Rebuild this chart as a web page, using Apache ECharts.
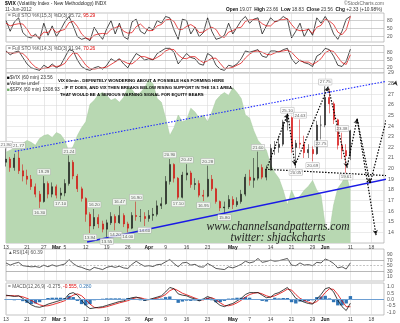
<!DOCTYPE html>
<html>
<head>
<meta charset="utf-8">
<title>$VIX 60 min</title>
<script src="https://cdn.jsdelivr.net/npm/echarts@6.0.0/dist/echarts.min.js"></script>
<style>
html,body{margin:0;padding:0;background:#fff;}
#chart{width:400px;height:323px;}
</style>
</head>
<body>
<div id="chart"></div>
<script>
// Trading days on the date axis (2012); the last eight are empty projection room.
const dates = ['02-13','02-14','02-15','02-16','02-17','02-21','02-22','02-23','02-24','02-27','02-28','02-29',
  '03-01','03-02','03-05','03-06','03-07','03-08','03-09','03-12','03-13','03-14','03-15','03-16','03-19','03-20',
  '03-21','03-22','03-23','03-26','03-27','03-28','03-29','03-30','04-02','04-03','04-04','04-05','04-09','04-10',
  '04-11','04-12','04-13','04-16','04-17','04-18','04-19','04-20','04-23','04-24','04-25','04-26','04-27','04-30',
  '05-01','05-02','05-03','05-04','05-07','05-08','05-09','05-10','05-11','05-14','05-15','05-16','05-17','05-18',
  '05-21','05-22','05-23','05-24','05-25','05-29','05-30','05-31','06-01','06-04','06-05','06-06','06-07','06-08',
  '06-11','06-12','06-13','06-14','06-15','06-18','06-19','06-20','06-21'];
const tickDates  = ['02-13','02-21','02-27','03-01','03-05','03-12','03-19','03-26','04-02','04-09','04-16','04-23','05-01','05-07','05-14','05-21','05-29','06-01','06-11','06-18'];
const tickLabels = ['13','21','27','Mar','5','12','19','26','Apr','9','16','23','May','7','14','21','29','Jun','11','18'];

// $VIX price bars
const vixOpen = [20.6,20.9,20.1,21.0,19.8,19.3,19.0,18.3,17.6,16.9, 18.6,17.6,18.3,17.5,17.7,18.6,20.6,19.3,18.1,17.2,
  15.7,14.6,15.4,14.8,14.3,14.9,15.5,14.9,15.6,14.8, 14.4,15.6,15.5,15.5,15.3,15.6,15.7,16.5,16.7,18.8,
  20.4,19.1,17.3,19.4,19.6,18.5,18.6,17.5,17.4,19.0, 18.1,16.9,16.3,16.4,17.1,16.6,16.9,17.6,19.2,18.9,
  19.1,20.1,19.2,19.9,21.9,22.0,22.3,24.4,24.8,22.0, 22.4,22.3,21.5,21.8,21.4,24.1,24.1,26.7,26.1,24.6, 22.2,21.7,21.2];
const vixClose = [20.9,20.1,21.0,19.8,19.3,19.0,18.3,17.6,16.9,18.6, 17.6,18.3,17.5,17.7,18.6,20.6,19.3,18.1,17.2,15.7,
  14.6,15.4,14.8,14.3,14.9,15.5,14.9,15.6,14.8,14.4, 15.6,15.5,15.5,15.3,15.6,15.7,16.5,16.7,18.8,20.4,
  19.1,17.3,19.4,19.6,18.5,18.6,17.5,17.4,19.0,18.1, 16.9,16.3,16.4,17.1,16.6,16.9,17.6,19.2,18.9,19.1,
  20.1,19.2,19.9,21.9,22.0,22.3,24.4,24.8,22.0,22.4, 22.3,21.5,21.8,21.4,24.1,24.1,26.7,26.1,24.6,22.2, 21.7,21.2,23.56];
const vixLow = [20.2,19.7,19.8,19.5,18.8,18.5,18.0,17.3,16.30,16.8, 17.2,17.3,17.2,17.10,17.4,18.4,19.0,17.8,16.9,15.0,
  13.94,14.3,14.4,14.0,13.55,14.7,14.2,14.8,14.5,14.0, 14.3,15.1,15.0,14.6,15.0,15.1,15.5,16.2,16.6,18.5,
  18.7,17.10,17.2,18.9,18.2,18.0,17.3,16.95,17.3,17.9, 16.7,16.0,15.80,16.2,16.2,16.4,16.7,17.4,18.4,18.20,
  18.9,19.0,18.9,19.8,21.3,21.5,22.1,23.6,21.5,20.05, 21.9,21.0,21.0,20.69,21.3,22.75,23.9,25.2,24.2,21.8, 20.9,19.61,20.8];
const vixHigh = [21.90,21.1,21.4,21.77,20.4,19.9,19.4,18.6,17.9,19.29, 18.8,18.7,18.5,18.2,19.0,21.24,20.8,19.5,18.3,17.3,
  15.9,16.20,15.7,15.1,15.2,15.9,15.7,16.47,15.8,15.0, 15.9,16.90,16.2,15.9,16.1,16.3,17.0,17.3,19.3,20.90,
  20.5,19.2,19.7,20.42,19.8,19.1,18.9,18.0,20.28,19.4, 18.2,17.0,16.9,17.5,17.4,17.3,18.0,19.5,19.9,21.0,
  21.60,20.4,20.3,22.3,22.6,23.1,24.6,25.10,24.9,22.7, 24.63,23.1,22.3,22.1,24.5,25.0,27.75,27.5,26.3,24.7, 23.38,22.3,23.66];
// bars whose high / low carry a value tag
const taggedHighs = [0,3,9,15,21,27,31,39,43,48,60,67,70,76,80];
const taggedLows  = [8,13,20,24,26,29,33,41,47,52,69,73,75,81];

// $SPX overlay (filled area)
const spx = [1348,1350,1352,1354,1357,1360,1358,1355,1362,1365, 1366,1363,1368,1366,1360,1348,1354,1365,1373,1379,
  1397,1401,1407,1409,1406,1401,1403,1399,1404,1414, 1412,1406,1409,1414,1422,1418,1403,1399,1383,1365,
  1373,1386,1379,1381,1393,1389,1383,1386,1379,1389, 1401,1406,1409,1406,1414,1409,1403,1386,1383,1370,
  1360,1355,1350,1335,1327,1321,1309,1294,1309,1299, 1303,1309,1313,1319,1309,1304,1273,1266,1294,1311, 1317,1325,1308.93];

// Full stochastics
const sto15K = [80,40,75,90,35,20,15,30,10,70, 25,60,20,45,75,95,60,20,10,15, 5,55,30,10,50,80,30,70,20,10,
  75,85,40,30,55,45,80,70,95,90, 45,10,85,80,30,55,20,35,90,40, 10,15,25,70,30,55,80,95,70,85,
  90,30,60,90,75,80,95,85,15,40, 70,20,50,25,90,70,95,70,30,10, 40,85,95.72];
const sto15D = [70,60,65,68,67,48,23,22,18,37, 35,52,35,42,47,72,77,58,30,15, 10,25,30,32,30,47,53,60,40,33,
  35,57,67,52,42,43,60,65,82,85, 77,48,47,58,65,55,35,37,48,55, 47,22,17,37,42,52,55,77,82,83,
  82,68,60,60,75,82,83,87,65,47, 42,43,47,32,55,62,85,78,65,37, 27,45,95.29];
const sto14K = [85,70,80,85,60,35,20,15,10,30, 20,35,20,30,60,90,85,50,25,15, 10,20,25,15,30,55,45,55,35,20,
  50,75,65,50,55,50,75,85,95,95, 80,35,55,75,60,55,35,30,75,65, 30,15,10,30,25,35,55,85,80,85,
  90,65,60,85,85,80,90,95,55,35, 50,40,35,25,65,75,95,90,65,30, 25,45,91.94];
const sto14D = [80,78,77,80,75,60,38,23,15,18, 20,28,25,28,37,60,78,75,53,30, 17,15,18,20,23,33,43,52,45,37,
  35,48,63,63,57,52,60,70,85,92, 90,70,57,55,63,63,50,40,47,57, 57,37,18,18,22,30,38,58,73,83,
  85,80,72,70,77,83,85,88,80,62, 47,42,42,33,42,55,78,87,83,62, 40,33,70.26];

// RSI(14)
const rsi14 = [60,52,58,62,50,48,46,47,44,52, 46,53,48,52,56,72,58,48,44,38, 34,44,40,36,44,48,44,48,42,40,
  55,66,56,48,50,47,54,55,64,72, 58,46,60,62,52,55,46,45,58,50, 40,38,36,46,42,48,55,66,60,64,
  76,62,65,70,66,68,72,76,52,50, 60,52,54,50,62,60,74,68,58,42, 46,38,60.39];

// MACD(12,26,9)
const macdLine = [0.35,0.30,0.25,0.30,0.10,-0.15,-0.40,-0.55,-0.60,-0.50, -0.35,-0.25,-0.15,-0.05,0.05,0.45,0.55,0.35,-0.05,-0.45,
  -0.70,-0.65,-0.60,-0.55,-0.45,-0.35,-0.25,-0.15,-0.10,0.05, 0.15,0.20,0.10,-0.05,0.00,0.10,0.20,0.30,0.60,0.95,
  0.85,0.45,0.35,0.30,0.15,0.05,-0.10,0.05,0.25,0.10, -0.20,-0.45,-0.55,-0.40,-0.30,-0.10,0.10,0.40,0.55,0.55,
  0.55,0.35,0.15,0.20,0.45,0.55,0.75,0.95,0.55,0.10, -0.05,-0.20,-0.30,-0.35,0.05,0.40,0.85,0.95,0.60,-0.05, -0.55,-0.85,-0.275];
const macdSignal = [0.30,0.32,0.30,0.28,0.22,0.10,-0.05,-0.25,-0.40,-0.50, -0.48,-0.40,-0.30,-0.20,-0.08,0.15,0.35,0.45,0.30,0.00,
  -0.35,-0.60,-0.65,-0.62,-0.55,-0.45,-0.35,-0.25,-0.17,-0.08, 0.05,0.15,0.15,0.05,0.00,0.05,0.12,0.22,0.40,0.70,
  0.85,0.70,0.50,0.38,0.25,0.12,0.00,-0.02,0.10,0.15, 0.00,-0.25,-0.45,-0.48,-0.40,-0.25,-0.05,0.20,0.40,0.50,
  0.55,0.45,0.30,0.20,0.30,0.45,0.62,0.82,0.75,0.40, 0.10,-0.05,-0.20,-0.30,-0.15,0.15,0.55,0.85,0.80,0.40, -0.10,-0.55,-0.555];
const macdHist = [0.05,-0.02,-0.05,0.02,-0.12,-0.25,-0.35,-0.30,-0.20,0.00, 0.13,0.15,0.15,0.15,0.13,0.30,0.20,-0.10,-0.35,-0.45,
  -0.35,-0.05,0.05,0.07,0.10,0.10,0.10,0.10,0.07,0.13, 0.10,0.05,-0.05,-0.10,0.00,0.05,0.08,0.08,0.20,0.25,
  0.00,-0.25,-0.15,-0.08,-0.10,-0.07,-0.10,0.07,0.15,-0.05, -0.20,-0.20,-0.10,0.08,0.10,0.15,0.15,0.20,0.15,0.05,
  0.00,-0.10,-0.15,0.00,0.15,0.10,0.13,0.13,-0.20,-0.30, -0.15,-0.15,-0.10,-0.05,0.20,0.25,0.30,0.10,-0.20,-0.45, -0.45,-0.30,0.28];

// Hand-drawn trend lines, as [trading-day index, price]
const upperChannel = [[2.1,21.62],[93.8,28.46]];
const lowerChannel = [[19.3,13.09],[93.8,19.28]];
const neckline     = [[61.7,19.94],[93.8,19.28]];
const pathMain     = [[62.1,20.03],[67.1,25.18],[68.8,20.3],[76.7,27.7],[81.2,20.1],[83.6,24.7],[86.7,18.6],[92.9,28.3]];
const pathAlt      = [[83.6,24.7],[88.1,13.75]];

const FF = '"Liberation Sans", Arial, sans-serif';
const tickSet = new Set(tickDates);
const tickText = {};
tickDates.forEach((d, i) => { tickText[d] = tickLabels[i]; });
const months = ['Mar','Apr','May','Jun'];

const chart = echarts.init(document.getElementById('chart'), null, {renderer: 'canvas'});

const gridBox = (top, height) => ({left: 6, right: 16, top, height, show: true,
  borderColor: '#9c9c9c', borderWidth: 0.6, backgroundColor: '#fff'});

const catAxis = (gi, showLabels) => ({
  type: 'category', gridIndex: gi, data: dates, boundaryGap: false,
  axisLine: {show: false}, axisTick: {show: false},
  axisLabel: {
    show: showLabels, interval: (i, v) => tickSet.has(v), margin: 2.5,
    fontSize: 5, fontFamily: FF, color: '#444',
    formatter: v => { const t = tickText[v] || ''; return months.includes(t) ? '{m|' + t + '}' : t; },
    rich: {m: {fontSize: 5, fontFamily: FF, fontWeight: 'bold', color: '#111'}}
  },
  splitLine: {show: true, interval: (i, v) => tickSet.has(v), lineStyle: {color: '#dadada', width: 0.6}}
});

const sideLabels = (keep, fmt) => ({
  show: true, fontSize: 5, fontFamily: FF, color: '#555', margin: 3,
  formatter: v => keep(v) ? (fmt ? fmt(v) : String(v)) : ''
});

const hLines = (vals, color, type) => ({
  silent: true, symbol: 'none', label: {show: false},
  lineStyle: {color, width: 0.6, type}, data: vals.map(v => ({yAxis: v}))
});

const stoKeep = v => v === 20 || v === 50 || v === 80;

const option = {
  animation: false,
  backgroundColor: '#fff',
  grid: [gridBox(13, 29), gridBox(45.5, 27.5), gridBox(73, 170), gridBox(249, 32), gridBox(283, 32)],
  xAxis: [
    catAxis(0, false), catAxis(1, false), catAxis(2, true), catAxis(3, false), catAxis(4, true),
    {type: 'value', gridIndex: 2, min: 0, max: dates.length - 1, show: false}
  ],
  yAxis: [
    {type: 'value', gridIndex: 0, position: 'right', min: 0, max: 108, interval: 10,
      axisLabel: sideLabels(stoKeep), splitLine: {show: false}, axisLine: {show: false}, axisTick: {show: false}},
    {type: 'value', gridIndex: 1, position: 'right', min: 0, max: 106, interval: 10,
      axisLabel: sideLabels(stoKeep), splitLine: {show: false}, axisLine: {show: false}, axisTick: {show: false}},
    {type: 'value', gridIndex: 2, position: 'right', min: 13, max: 29, interval: 1,
      axisLabel: Object.assign(sideLabels(v => v > 13), {fontSize: 5.2, margin: 4}),
      splitLine: {show: true, lineStyle: {color: '#dedede', width: 0.6}}, axisLine: {show: false}, axisTick: {show: false}},
    {type: 'value', gridIndex: 2, min: 1255, max: 1429, show: false, splitLine: {show: false}},
    {type: 'value', gridIndex: 3, position: 'right', min: -5, max: 110, interval: 5,
      axisLabel: sideLabels(v => [10, 30, 50, 70, 90].includes(v)), splitLine: {show: false}, axisLine: {show: false}, axisTick: {show: false}},
    {type: 'value', gridIndex: 4, position: 'right', min: -1.2, max: 1.3, interval: 0.1,
      axisLabel: sideLabels(v => { const t = Math.round(v * 10); return t % 5 === 0 && Math.abs(t) <= 10; },
        v => (Math.round(v * 10) / 10).toFixed(1)),
      splitLine: {show: false}, axisLine: {show: false}, axisTick: {show: false}}
  ],
  series: [
    // Full STO %K(15,3) %D(3)
    {type: 'line', xAxisIndex: 0, yAxisIndex: 0, data: sto15K, symbol: 'none', lineStyle: {color: '#000', width: 0.7},
      markLine: hLines([80, 50, 20], '#b0b0b0', 'solid'), z: 3},
    {type: 'line', xAxisIndex: 0, yAxisIndex: 0, data: sto15D, symbol: 'none', lineStyle: {color: '#e00000', width: 0.7}, z: 4},
    // Full STO %K(14,3) %D(3)
    {type: 'line', xAxisIndex: 1, yAxisIndex: 1, data: sto14K, symbol: 'none', lineStyle: {color: '#000', width: 0.7},
      markLine: hLines([80, 50, 20], '#b0b0b0', 'solid'), z: 3},
    {type: 'line', xAxisIndex: 1, yAxisIndex: 1, data: sto14D, symbol: 'none', lineStyle: {color: '#e00000', width: 0.7}, z: 4},
    // $SPX area behind the price bars
    {type: 'line', xAxisIndex: 2, yAxisIndex: 3, data: spx, symbol: 'none', z: 1,
      lineStyle: {color: '#a6cb9f', width: 0.5}, areaStyle: {color: '#b8d8b2', opacity: 1, origin: 'start'}},
    // $VIX bars
    {type: 'candlestick', xAxisIndex: 2, yAxisIndex: 2, barWidth: 1.6, z: 3,
      data: vixOpen.map((o, i) => [o, vixClose[i], vixLow[i], vixHigh[i]]),
      itemStyle: {color: '#111', color0: '#d40000', borderColor: '#111', borderColor0: '#d40000', borderWidth: 0.5}},
    // value tags on swing highs and lows
    {type: 'scatter', xAxisIndex: 2, yAxisIndex: 2, symbolSize: 0, z: 6,
      data: taggedHighs.map(i => [i, vixHigh[i]]),
      label: {show: true, position: 'top', distance: 1.5, formatter: p => p.value[1].toFixed(2),
        fontSize: 4.4, fontFamily: FF, color: '#333', backgroundColor: '#fff', borderColor: '#a8a8a8',
        borderWidth: 0.5, padding: [0.5, 1, 0, 1], lineHeight: 5}},
    {type: 'scatter', xAxisIndex: 2, yAxisIndex: 2, symbolSize: 0, z: 6,
      data: taggedLows.map(i => [i, vixLow[i]]),
      label: {show: true, position: 'bottom', distance: 1.5, formatter: p => p.value[1].toFixed(2),
        fontSize: 4.4, fontFamily: FF, color: '#333', backgroundColor: '#fff', borderColor: '#a8a8a8',
        borderWidth: 0.5, padding: [0.5, 1, 0, 1], lineHeight: 5}},
    // trend lines
    {type: 'line', xAxisIndex: 5, yAxisIndex: 2, data: upperChannel, symbol: 'none', clip: false, z: 5,
      lineStyle: {color: '#1f2bff', width: 1.1, type: [1.5, 1.5]}},
    {type: 'line', xAxisIndex: 5, yAxisIndex: 2, data: lowerChannel, symbol: 'none', clip: false, z: 5,
      lineStyle: {color: '#1a1ae6', width: 1.4}},
    {type: 'line', xAxisIndex: 5, yAxisIndex: 2, data: neckline, symbol: 'none', clip: false, z: 5,
      lineStyle: {color: '#000', width: 1.2, type: [1.5, 1.5]}},
    {type: 'line', xAxisIndex: 5, yAxisIndex: 2, data: pathMain, symbol: 'none', clip: false, z: 5,
      lineStyle: {color: '#000', width: 1.2, type: [1.5, 1.5]}},
    {type: 'line', xAxisIndex: 5, yAxisIndex: 2, data: pathAlt, symbol: 'none', clip: false, z: 5,
      lineStyle: {color: '#000', width: 1.2, type: [1.5, 1.5]}},
    // RSI(14)
    {type: 'line', xAxisIndex: 3, yAxisIndex: 4, data: rsi14, symbol: 'none', lineStyle: {color: '#111', width: 0.7}, z: 3,
      markLine: {silent: true, symbol: 'none', label: {show: false}, data: [
        {yAxis: 70, lineStyle: {color: '#9a9a9a', width: 0.7, type: 'solid'}},
        {yAxis: 30, lineStyle: {color: '#9a9a9a', width: 0.7, type: 'solid'}},
        {yAxis: 50, lineStyle: {color: '#9a9a9a', width: 0.6, type: [2, 1.5]}}]}},
    // MACD(12,26,9)
    {type: 'bar', xAxisIndex: 4, yAxisIndex: 5, data: macdHist, barWidth: 3.4, z: 2,
      itemStyle: {color: '#2f74b5'},
      markLine: {silent: true, symbol: 'none', label: {show: false}, data: [{yAxis: 0}],
        lineStyle: {color: '#6d9fd3', width: 1, type: 'solid'}}},
    {type: 'line', xAxisIndex: 4, yAxisIndex: 5, data: macdSignal, symbol: 'none', lineStyle: {color: '#e00000', width: 0.8}, z: 3},
    {type: 'line', xAxisIndex: 4, yAxisIndex: 5, data: macdLine, symbol: 'none', lineStyle: {color: '#111', width: 0.8}, z: 4}
  ],
  graphic: []
};

const txt = (x, y, text, extra) => ({type: 'text', x, y, z: 100, silent: true,
  style: Object.assign({text, fontSize: 4.8, fontFamily: FF, fill: '#222', verticalAlign: 'middle', align: 'left'}, extra || {})});

option.graphic = [
  txt(5, 4, '{b|$VIX} (Volatility Index - New Methodology) INDX',
    {rich: {b: {fontSize: 5, fontFamily: FF, fontWeight: 'bold', fill: '#000'}}}),
  txt(5, 9.6, '11-Jun-2012', {fill: '#444'}),
  txt(384, 3.6, '\u00A9StockCharts.com', {align: 'right', fill: '#666'}),
  txt(382, 9.6, '{b|Open} 19.07  {b|High} 23.66  {b|Low} 18.83  {b|Close} 23.56  {b|Chg} +2.33 (+10.98%)',
    {align: 'right', fill: '#333', rich: {b: {fontSize: 4.8, fontFamily: FF, fontWeight: 'bold', fill: '#111'}}}),
  txt(8, 16, '= Full STO %K(15,3) %D(3) 95.72, {r|95.29}', {fill: '#555', rich: {r: {fontSize: 4.8, fontFamily: FF, fill: '#e00000'}}}),
  txt(8, 48.5, '= Full STO %K(14,3) %D(3) 91.94, {r|70.26}', {fill: '#555', rich: {r: {fontSize: 4.8, fontFamily: FF, fill: '#e00000'}}}),
  txt(7, 78, '{k|\u25A0}$VIX (60 min) 23.56', {fill: '#333', rich: {k: {fontSize: 4.8, fill: '#000'}}}),
  txt(7, 84, '{k|\u25A0}Volume undef', {fill: '#333', rich: {k: {fontSize: 4.8, fill: '#555'}}}),
  txt(7, 90, '{k|\u25A0}$SPX (60 min) 1308.93', {fill: '#333', rich: {k: {fontSize: 4.8, fill: '#6fae66'}}}),
  txt(58, 81, 'VIX 60min - DEFINITELY WONDERING ABOUT A POSSIBLE H&S FORMING HERE', {fontSize: 4.3, fontWeight: 'bold', fill: '#000'}),
  txt(62, 88, '- IF IT DOES, AND VIX THEN BREAKS BELOW RISING SUPPORT IN THE 18.1 AREA,', {fontSize: 4.3, fontWeight: 'bold', fill: '#000'}),
  txt(60, 95, 'THAT WOULD BE A SERIOUS WARNING SIGNAL FOR EQUITY BEARS', {fontSize: 4.3, fontWeight: 'bold', fill: '#000'}),
  txt(278, 227, 'www.channelsandpatterns.com', {align: 'center', fontSize: 11.5, fontStyle: 'italic', fontFamily: '"Liberation Serif", serif', fill: '#222'}),
  txt(278, 237.5, 'twitter: shjackcharts', {align: 'center', fontSize: 11.5, fontStyle: 'italic', fontFamily: '"Liberation Serif", serif', fill: '#222'}),
  txt(8, 253, '\u25B2RSI(14) 60.39', {fill: '#555'}),
  txt(8, 286.5, '= MACD(12,26,9) -0.275, {r|-0.555,} {b|0.280}', {fill: '#555',
    rich: {r: {fontSize: 4.8, fontFamily: FF, fill: '#e00000'}, b: {fontSize: 4.8, fontFamily: FF, fill: '#2f74b5'}}})
];

chart.setOption(option);

// arrow heads at the end of every drawn segment, turned along the segment
const heads = [];
[pathMain, pathAlt].forEach(path => {
  for (let i = 1; i < path.length; i++) {
    const a = chart.convertToPixel({xAxisIndex: 5, yAxisIndex: 2}, path[i - 1]);
    const b = chart.convertToPixel({xAxisIndex: 5, yAxisIndex: 2}, path[i]);
    const ang = Math.atan2(-(b[0] - a[0]), -(b[1] - a[1])) * 180 / Math.PI;
    heads.push({value: path[i], symbolRotate: ang});
  }
});
option.series.push({type: 'scatter', xAxisIndex: 5, yAxisIndex: 2, clip: false, z: 7,
  symbol: 'arrow', symbolSize: [4, 5], itemStyle: {color: '#000'}, data: heads});
chart.setOption(option);
</script>
</body>
</html>
